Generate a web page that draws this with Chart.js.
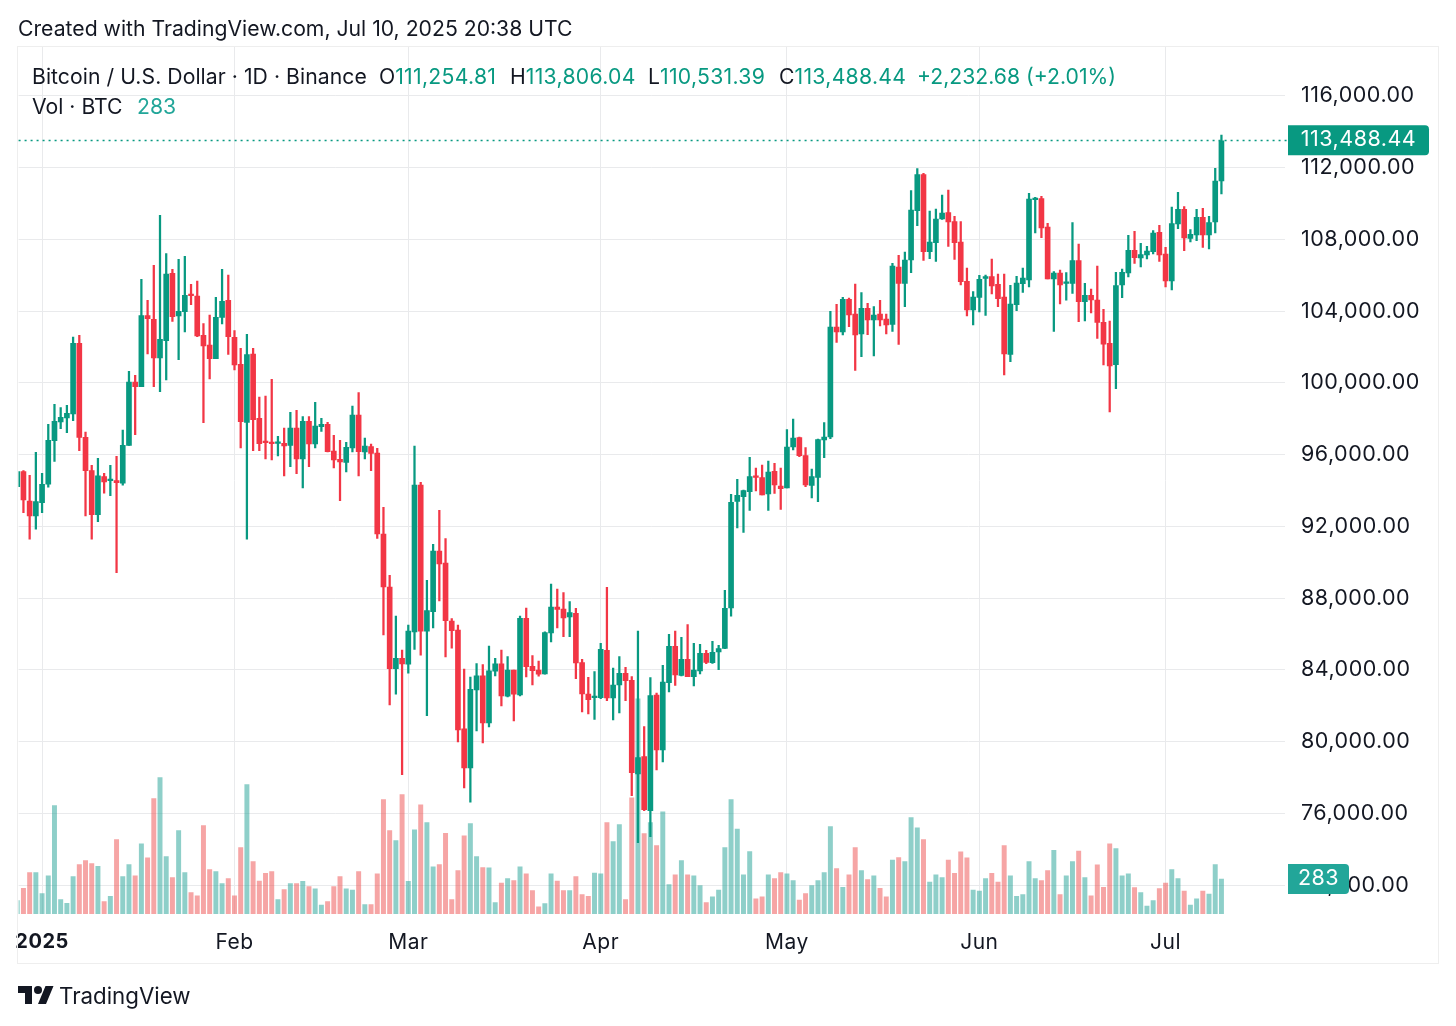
<!DOCTYPE html>
<html>
<head>
<meta charset="utf-8">
<title>BTC/USD</title>
<script src="https://cdn.jsdelivr.net/npm/chart.js@4/dist/chart.umd.min.js"></script>
<style>
    html, body { margin: 0; background: #fff; }
    body { width: 1456px; height: 1026px; position: relative; overflow: hidden; font-family: Inter, sans-serif; color: #131722; }
    canvas { position: absolute; left: 0; top: 0; }
    .frame { position: absolute; left: 17px; top: 46px; width: 1420px; height: 916px; border: 1px solid #eeeeee; }
    .txt { position: absolute; font-size: 21.2px; line-height: 26px; white-space: nowrap; }
    .up { color: #089981; }
    .num { letter-spacing: 0.3px; }
    .vol { color: #22a699; }
    .logo { position: absolute; left: 18px; top: 986px; width: 36px; height: 20px; }
</style>
</head>
<body>
<canvas id="chart" width="1456" height="1026"></canvas>
<div class="frame"></div>
<div class="txt" style="left:18px;top:15px">Created with TradingView.com, Jul 10, 2025 20:38 UTC</div>
<div class="txt" style="left:32px;top:63px;letter-spacing:0.05px">Bitcoin / U.S. Dollar · 1D · Binance</div>
<div class="txt" style="left:379px;top:63px">O<span class="up num">111,254.81</span></div>
<div class="txt" style="left:510px;top:63px">H<span class="up num">113,806.04</span></div>
<div class="txt" style="left:648px;top:63px">L<span class="up num">110,531.39</span></div>
<div class="txt" style="left:779px;top:63px">C<span class="up num">113,488.44</span></div>
<div class="txt up" style="left:917px;top:63px">+2,232.68 (+2.01%)</div>
<div class="txt" style="left:32px;top:93px">Vol · BTC</div>
<div class="txt vol" style="left:137px;top:93px">283</div>
<svg class="logo" viewBox="0 0 36 20"><path fill="#131722" d="M14 18H7V7H0V0h14v18zM28 18h-8L27.5 0h8L28 18z"/><circle fill="#131722" cx="20" cy="4" r="4"/></svg>
<div class="txt" style="left:59px;top:983px;font-size:22.3px">TradingView</div>
<script>
const opens = [
    94212, 95048, 93413, 92577, 93320, 94342, 96776, 97817, 98040, 98263,
    102202, 96962, 95104, 92651, 94770, 94547, 94547, 94398, 96516, 100046,
    99786, 103744, 103539, 101384, 102350, 106103, 103725, 103967, 104933, 104840,
    102648, 102109,
    101346, 103650, 104598, 102535, 101030, 97798, 101606, 98020, 96738, 96701,
    96627, 96627, 96516, 97482, 95754, 97853, 96590, 97556, 97686, 96200,
    95735, 95568, 96367, 98206, 96144, 96441, 96088,
    91572, 88618, 84066, 84642, 84307, 86110, 94303, 86147, 87243, 90624,
    89956, 86723, 86221, 80703, 78529, 82877, 83657, 81037, 83917, 84326,
    82524, 83991, 82598, 86871, 84196, 83991, 83768, 86054, 87503, 87392, 86946,
    87148, 84398, 82651, 82447, 82447, 85085, 82428, 83153, 83803, 83413,
    78192, 79158, 76148, 82595, 79530, 83283, 85308, 83692, 84584, 83617,
    83933, 84918, 84398, 84992, 85197,
    87448, 93393, 93653, 93932, 94805, 94712, 93802, 95065, 94248, 94136,
    96422, 96942, 95939, 94285, 94731, 96812, 96979, 103111, 102832, 104653,
    103835, 102720, 104151, 103501, 103835, 103557,
    103261, 106457, 105546, 106847, 109597, 111603, 107311, 107813, 109132, 109485,
    108984, 107850, 105658, 104060, 104766, 105825, 105918, 105491, 104785, 101589,
    104357, 105528, 105732, 110210, 110266, 108686, 105788, 106122,
    105547, 105547, 106811, 104525, 104878, 104618, 103373, 102203, 101014, 105454,
    106123, 107387, 106959, 107126, 107312, 108390, 107182, 105677, 108854, 109672,
    108055, 108241, 109226, 108241, 108966, 111254.81
];
const highs = [
    95048, 95104, 94844, 96126, 94955, 97687, 98801, 98616, 98746, 102555,
    102648, 97259, 95401, 95791, 94955, 95401, 95903, 97371, 100641, 100418,
    105769, 104598, 106549, 109336, 107200, 106326, 106884, 107051, 105490, 105676,
    103298, 103781,
    104765, 106326, 106010, 102907, 101922, 102703, 101922, 99210, 99265, 100194,
    97017, 97482, 98355, 98466, 98113, 98113, 98912, 98020, 97798, 97073,
    96794, 96683, 98708, 99451, 96924, 96590, 96348,
    93058, 89268, 87001, 85106, 86500, 96477, 94452, 88989, 90996, 92891,
    91312, 86853, 86500, 84047, 83601, 84344, 84289, 85329, 84642, 85106,
    84735, 83991, 87001, 87447, 84790, 84493, 86110, 88785, 88506, 88302, 87800,
    87426, 84584, 83580, 83896, 85475, 88597, 84100, 84732, 84138, 83617,
    86163, 80830, 83562, 82707, 84249, 85977, 86163, 85810, 86516, 85475,
    85420, 85085, 85587, 85364, 88430,
    93783, 94620, 94025, 95846, 95251, 95418, 95641, 95511, 95251, 97388,
    97983, 96979, 96385, 95196, 96868, 97778, 103984, 104374, 104764, 104727,
    105507, 105024, 104430, 104244, 104597, 103835,
    106661, 107107, 107293, 110712, 111938, 111678, 109578, 109690, 110470, 110749,
    109281, 108984, 106401, 105082, 105992, 106011, 106903, 106067, 106067, 105435,
    105937, 106401, 110563, 110340, 110396, 108891, 106197, 106290,
    106142, 108929, 107740, 105547, 105231, 106513, 104098, 103448, 106160, 106346,
    108223, 108446, 107777, 107610, 108483, 108780, 107554, 109802, 110620, 109821,
    108539, 109672, 109728, 109282, 111957, 113806.04
];
const lows = [
    94212, 92763, 91277, 91834, 92763, 94175, 95624, 97445, 97222, 97891,
    96219, 92577, 91277, 92261, 93841, 93711, 89419, 94287, 96516, 97111,
    99786, 101607, 99786, 99507, 100158, 103428, 101291, 102833, 104357, 102573,
    97780, 100214,
    101346, 103279, 101588, 100715, 96367, 91276, 96218, 96218, 95754, 95698,
    95921, 94806, 95326, 94936, 94137, 95326, 96367, 97296, 96144, 95252,
    93431, 95029, 96144, 94806, 95754, 95103, 91330,
    85942, 82040, 82635, 78157, 83806, 85143, 84809, 81446, 86332, 87837,
    84716, 85199, 79978, 77414, 76615, 80591, 79922, 80814, 83657, 81985,
    82486, 81149, 82542, 83601, 83155, 83638, 83750, 85552, 86332, 85849, 85849,
    83506, 81648, 81536, 81239, 82391, 82280, 81202, 81592, 82280, 76984,
    74365, 76148, 74699, 78415, 78861, 82763, 83134, 83655, 83617, 83097,
    83766, 84342, 84361, 84008, 85178,
    86983, 91907, 91665, 92892, 93969, 93746, 92892, 93839, 92947, 94136,
    96255, 95883, 94211, 93579, 93375, 95827, 96886, 102256, 102665, 103129,
    100695, 101457, 102683, 101494, 103166, 102720,
    102871, 102146, 104246, 106141, 108761, 106828, 106921, 106773, 109114, 107609,
    106884, 105453, 103726, 103224, 103949, 103763, 104952, 104246, 100437, 101180,
    104023, 105045, 105342, 108352, 108092, 105788, 102871, 104394,
    104600, 104990, 103410, 103448, 103894, 102481, 100995, 98375, 99676, 104748,
    105900, 106662, 106458, 106904, 107182, 106773, 105343, 105176, 108594, 107368,
    107851, 107925, 107554, 107461, 108353, 110531.39
];
const closes = [
    95048, 93469, 92577, 93376, 94342, 96795, 97854, 98077, 98300, 102202,
    96962, 95104, 92651, 94807, 94472, 94621, 94435, 96516, 100046, 99786,
    103744, 103577, 101384, 102425, 106066, 103688, 103985, 104877, 104859, 102610,
    102053, 101347,
    103650, 104542, 102573, 100993, 97835, 101569, 97946, 96608, 96664, 96608,
    96701, 96478, 97482, 95754, 97853, 96590, 97593, 97686, 96162, 95698,
    95587, 96404, 98206, 96162, 96478, 96070, 91573,
    88618, 84066, 84642, 84326, 86165, 94303, 86147, 87299, 90624, 89900,
    86741, 86184, 80647, 78529, 82914, 83657, 81037, 83936, 84326, 82542,
    83991, 82635, 86871, 84177, 83954, 83750, 86072, 87503, 87373, 86890, 87187,
    84379, 82651, 82335, 82521, 85141, 82428, 83153, 83803, 83394, 78266,
    79102, 76204, 82558, 79530, 83320, 85308, 83710, 84584, 83617, 83989,
    84918, 84416, 84974, 85178, 87426,
    93338, 93728, 93988, 94768, 94731, 93746, 95028, 94304, 94099, 96422,
    96923, 95939, 94304, 94768, 96831, 96979, 103111, 102832, 104653, 103779,
    102665, 104151, 103501, 103779, 103501, 103222,
    106513, 105546, 106847, 109634, 111603, 107311, 107850, 109132, 109467, 108965,
    107813, 105639, 104060, 104785, 105769, 105918, 105398, 104692, 101607, 104394,
    105565, 105844, 110247, 110284, 108631, 105788, 106122, 105453,
    105603, 106811, 104525, 104878, 104618, 103373, 102147, 100939, 105417, 106160,
    107387, 106978, 107145, 107349, 108353, 107126, 105677, 108873, 109672, 108074,
    108278, 109226, 108241, 108929, 111251, 113488.44
];
const volumes = [
    108, 208, 335, 335, 165, 308, 878, 116, 86, 302, 400, 432, 408, 386, 100, 143, 602, 302, 400, 308,
    567, 454, 934, 1104, 464, 294, 675, 335, 173, 148, 715, 359, 343, 246, 286, 148, 537, 1048, 424, 267,
    329, 343, 116, 197, 246, 246, 265, 221, 203, 73, 100, 221, 302, 203, 194, 343, 76, 76, 324, 926,
    675, 594, 967, 265, 680,
    883, 740, 381, 400, 653, 116, 351, 632, 732, 464, 375, 373, 92, 251, 286, 270, 381, 324, 189, 59,
    84, 324, 267, 189, 189, 302, 157, 143, 332, 324, 740, 586, 724, 116, 940, 1740, 651, 740, 553, 826,
    238, 316, 432, 316, 308, 230, 92, 138, 194, 537, 926, 688, 316, 505, 122, 138, 316, 286, 335, 324,
    270, 113, 165,
    230, 270, 335, 707, 367, 216, 316, 537, 351, 278, 308, 208, 138, 437, 456, 424, 780, 697, 602, 259,
    316, 294, 437, 329, 502, 454, 194, 186, 286, 329, 259, 553, 308, 143, 157, 424, 286, 270, 351, 516,
    157, 308, 424, 510, 294, 148, 397, 216, 567, 529, 308, 324, 213, 173, 65, 108, 205, 251, 359, 286,
    186, 73, 122, 186, 162, 400, 283
];
// days counted from Jan 1, first candle is Dec 28
const firstDay = -4;
const priceTicks = [72000, 76000, 80000, 84000, 88000, 92000, 96000, 100000, 104000, 108000, 112000, 116000];
const monthDays = [0, 31, 59, 90, 120, 151, 181];
const monthLabels = ['2025', 'Feb', 'Mar', 'Apr', 'May', 'Jun', 'Jul'];

const UP = '#089981';
const DOWN = '#F23645';
const VOL_UP = 'rgba(30,160,148,0.5)';
const VOL_DOWN = 'rgba(238,76,76,0.5)';
const GRID = '#e9eaec';
const TEXT = '#131722';
const FONT = 'Inter, sans-serif';

const isUp = closes.map((c, i) => c >= opens[i]);
const candleColors = isUp.map(u => u ? UP : DOWN);
const volumeColors = isUp.map(u => u ? VOL_UP : VOL_DOWN);
const dayOf = i => firstDay + i;
const lastIndex = closes.length - 1;

const priceMarkers = {
    id: 'priceMarkers',
    beforeDraw(chart) {
        // wider digits, the axis font runs narrow otherwise
        chart.ctx.letterSpacing = '0.5px';
    },
    beforeDatasetsDraw(chart) {
        const { ctx, chartArea, scales } = chart;
        const y = Math.round(scales.y.getPixelForValue(closes[lastIndex])) - 0.5;
        ctx.save();
        ctx.strokeStyle = UP;
        ctx.lineWidth = 1.5;
        ctx.setLineDash([2, 4]);
        ctx.beginPath();
        ctx.moveTo(chartArea.left, y);
        ctx.lineTo(chartArea.right + 4, y);
        ctx.stroke();
        ctx.restore();
    },
    afterDraw(chart) {
        const { ctx, scales } = chart;
        const drawBadge = (text, x, y, w, h, color) => {
            ctx.fillStyle = color;
            ctx.beginPath();
            ctx.roundRect(x, y - h / 2, w, h, [0, 4, 4, 0]);
            ctx.fill();
            ctx.fillStyle = '#fff';
            ctx.font = '21.5px ' + FONT;
            ctx.textAlign = 'center';
            ctx.textBaseline = 'middle';
            ctx.fillText(text, x + w / 2, y - 0.5);
        };
        ctx.save();
        const priceText = closes[lastIndex].toLocaleString('en-US', { minimumFractionDigits: 2 });
        drawBadge(priceText, 1288, scales.y.getPixelForValue(closes[lastIndex]) - 0.5, 141, 30, UP);
        drawBadge(String(volumes[lastIndex]), 1288, scales.vol.getPixelForValue(volumes[lastIndex]), 61, 30, '#22a699');
        ctx.restore();
    }
};

new Chart(document.getElementById('chart'), {
    type: 'bar',
    data: {
        datasets: [
            {
                label: 'Body',
                data: closes.map((c, i) => ({ x: dayOf(i), y: [opens[i], c] })),
                backgroundColor: candleColors,
                barThickness: 5,
                minBarLength: 1.5,
                yAxisID: 'y'
            },
            {
                label: 'Wick',
                data: highs.map((h, i) => ({ x: dayOf(i), y: [lows[i], h] })),
                backgroundColor: candleColors,
                barThickness: 1.6,
                yAxisID: 'y'
            },
            {
                label: 'Volume',
                data: volumes.map((v, i) => ({ x: dayOf(i), y: v })),
                backgroundColor: volumeColors,
                barThickness: 4.3,
                yAxisID: 'vol'
            }
        ]
    },
    options: {
        responsive: false,
        animation: false,
        devicePixelRatio: 1,
        layout: { padding: { left: 18, right: 18, top: 47, bottom: 63 } },
        datasets: { bar: { grouped: false, borderSkipped: false } },
        plugins: { legend: { display: false }, tooltip: { enabled: false } },
        scales: {
            x: {
                type: 'linear',
                offset: false,
                min: -3.784,
                max: 200.24,
                afterFit: axis => { axis.height = 49; },
                afterBuildTicks: axis => { axis.ticks = monthDays.map(d => ({ value: d })); },
                grid: { color: GRID, drawTicks: false, offset: false },
                border: { display: false },
                ticks: {
                    autoSkip: false,
                    maxRotation: 0,
                    padding: 16,
                    color: TEXT,
                    font: c => ({ family: FONT, size: c.index === 0 ? 20 : 21, weight: c.index === 0 ? '700' : '400' }),
                    callback: (v, i) => monthLabels[i]
                }
            },
            y: {
                position: 'right',
                min: 70386,
                max: 118721,
                afterFit: axis => { axis.width = 153; },
                afterBuildTicks: axis => { axis.ticks = priceTicks.map(v => ({ value: v })); },
                grid: { color: GRID, drawTicks: false },
                border: { display: false },
                ticks: {
                    autoSkip: false,
                    padding: 16,
                    color: TEXT,
                    font: { family: FONT, size: 21.5 },
                    callback: v => v.toLocaleString('en-US', { minimumFractionDigits: 2 })
                }
            },
            vol: { display: false, min: 0, max: 7014 }
        }
    },
    plugins: [priceMarkers]
});
</script>
</body>
</html>
